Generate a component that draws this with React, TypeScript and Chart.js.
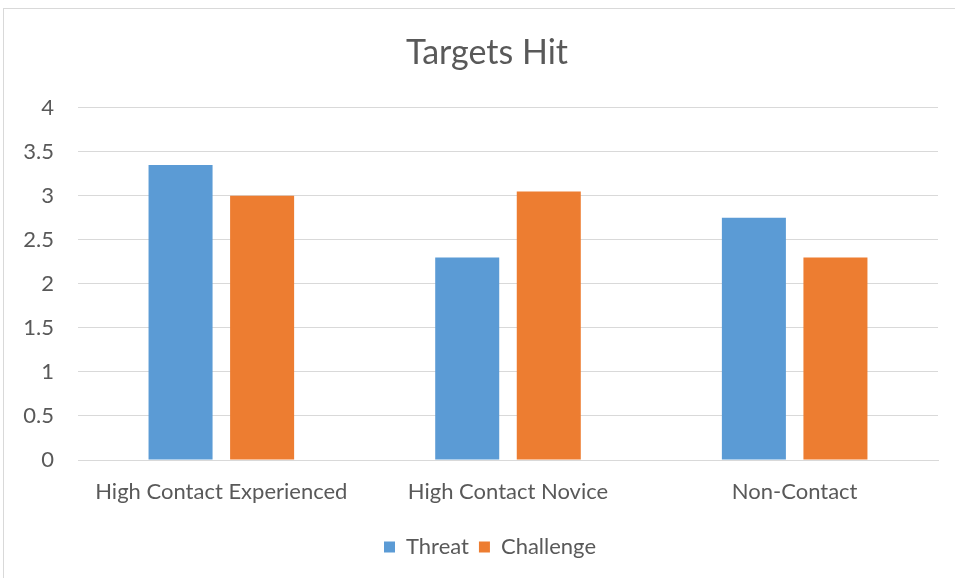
import React, { useEffect, useRef } from "react";
import { Chart, registerables } from "chart.js";

Chart.register(...registerables);

const categories = ["High Contact Experienced", "High Contact Novice", "Non-Contact"];
const threatValues = [3.35, 2.3, 2.75];
const challengeValues = [3.0, 3.05, 2.3];
const chartTitle = "Targets Hit";

const FONT = "Lato, sans-serif";
const TEXT = "#595959";

const shiftPlugin = {
  id: "shiftBlocks",
  afterLayout(chart: any) {
    const t = chart.titleBlock;
    if (t) { t.left += 18; t.right += 18; }
    const l = chart.legend;
    if (l) { l.left += 21; l.right += 21; }
  },
};

export default function App() {
  const ref = useRef<HTMLCanvasElement | null>(null);
  useEffect(() => {
    if (!ref.current) return;
    const chart = new Chart(ref.current, {
      type: "bar",
      data: {
        labels: categories,
        datasets: [
          { label: "Threat", data: threatValues, backgroundColor: "#5B9BD5", borderWidth: 0 },
          { label: "Challenge", data: challengeValues, backgroundColor: "#ED7D31", borderWidth: 0 },
        ],
      },
      plugins: [shiftPlugin],
      options: {
        animation: false,
        responsive: false,
        maintainAspectRatio: false,
        datasets: { bar: { categoryPercentage: 0.569, barPercentage: 0.785 } },
        layout: { padding: { left: 0, right: 17, top: 0, bottom: 10 } },
        plugins: {
          title: {
            display: true,
            text: chartTitle,
            color: TEXT,
            font: { family: FONT, size: 34, weight: "normal" },
            padding: { top: 33, bottom: 34 },
          },
          legend: {
            position: "bottom",
            labels: {
              color: TEXT,
              font: { family: FONT, size: 22 },
              boxWidth: 11,
              boxHeight: 11,
              padding: 10,
            },
          },
          tooltip: { enabled: false },
        },
        scales: {
          x: {
            grid: { display: false, drawTicks: false },
            border: { display: true, color: "#d9d9d9" },
            ticks: { color: TEXT, font: { family: FONT, size: 22 }, padding: 19, maxRotation: 0 },
            afterFit: (s: any) => { s.height = 66; },
          },
          y: {
            min: 0,
            max: 4,
            grid: { color: "#d9d9d9", drawTicks: false },
            border: { display: false },
            ticks: {
              stepSize: 0.5,
              color: TEXT,
              font: { family: FONT, size: 22 },
              padding: 24,
              callback: (v: any) => String(v),
            },
            afterFit: (s: any) => { s.width = 78; },
          },
        },
      },
    });
    return () => chart.destroy();
  }, []);
  return (
    <div style={{ position: "fixed", left: 0, top: 0, width: 955, height: 578, background: "#fff" }}>
      <div style={{ position: "absolute", left: 3, top: 8, width: 960, height: 580, border: "1px solid #d9d9d9", boxSizing: "border-box" }} />
      <canvas ref={ref} width={955} height={578} style={{ position: "absolute", left: 0, top: 0 }} />
    </div>
  );
}
